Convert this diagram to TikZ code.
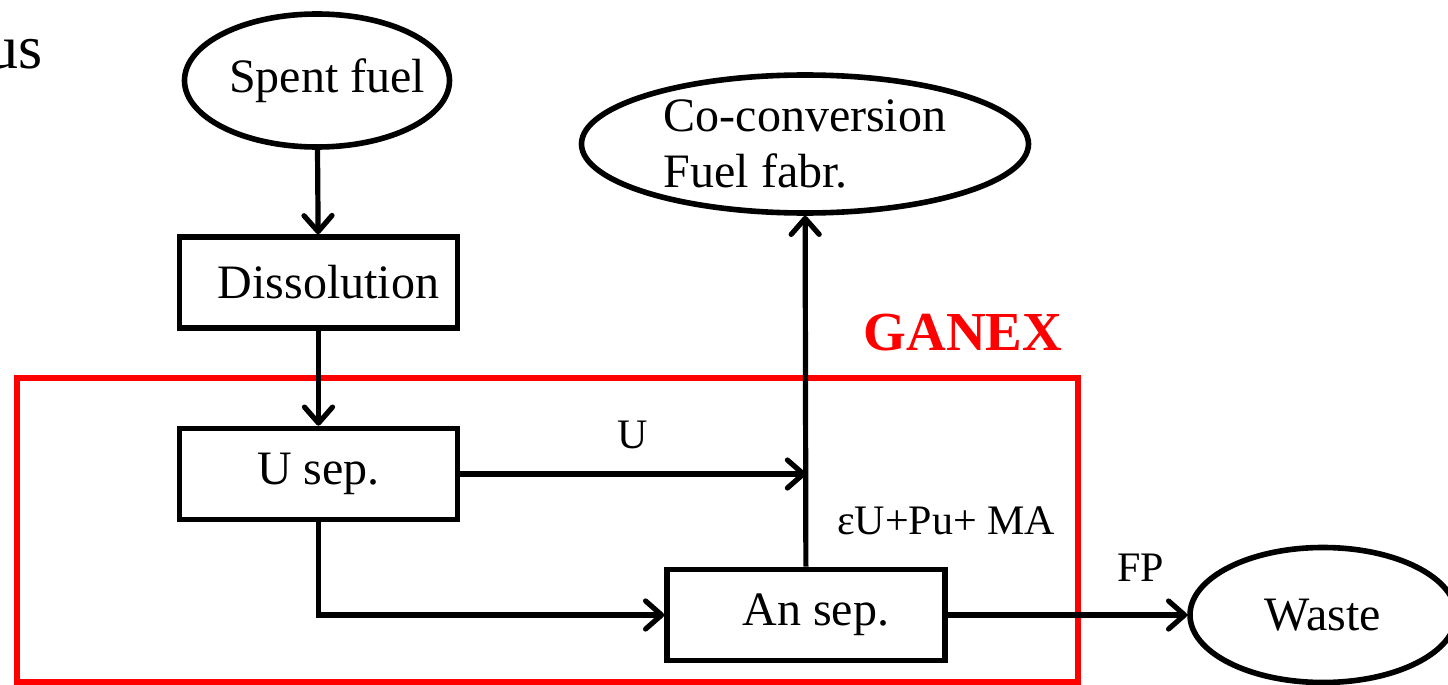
\documentclass[tikz,border=0pt]{standalone}
\usepackage{fontspec}
\setmainfont{Liberation Serif}
\usetikzlibrary{shapes.geometric, arrows.meta, positioning, calc}
\definecolor{ganexred}{RGB}{255, 0, 0}

\begin{document}
\begin{tikzpicture}[x=0.5pt, y=-0.5pt,
    stepbox/.style={draw=black, line width=2.8pt, rectangle, minimum width=139pt, minimum height=45.5pt, inner sep=0pt, font=\fontsize{24}{28}\selectfont},
    endpoint/.style={draw=black, line width=2.8pt, ellipse, inner sep=0pt, font=\fontsize{24}{28}\selectfont},
    flow/.style={line width=2.6pt, -{Straight Barb[length=8pt, width=14pt, round]}},
    lbl/.style={font=\fontsize{21}{24}\selectfont}]
    \useasboundingbox (0,0) rectangle (1448,685);

    % --- GANEX frame ---
    \draw[ganexred, line width=2.8pt] (17,378) rectangle (1078,682);
    \node[ganexred, font=\bfseries\fontsize{27.5}{32}\selectfont] (ganex) at (963,333) {GANEX};

    % cut-off slide text
    \node[anchor=east, inner sep=0pt, font=\fontsize{31}{36}\selectfont] (us) at (43,54) {us};

    % --- process steps ---
    \node[endpoint, inner xsep=-12pt, minimum width=132.5pt, minimum height=66.5pt] (spent) at (317,80.5) {\hspace*{10pt}Spent fuel};
    \node[stepbox] (dissol) at (318.5,282.5) {\hspace*{10pt}Dissolution};
    \node[stepbox] (usep) at (318.5,474) {U sep.};
    \node[stepbox] (ansep) at (806,615) {\hspace*{10pt}An sep.};
    \node[endpoint, minimum width=223.5pt, minimum height=69pt, align=left] (coconv) at (805,144) {Co-conversion\\Fuel fabr.};
    \node[endpoint, minimum width=133pt, minimum height=67.5pt] (waste) at (1323,615) {Waste};
    \coordinate (join) at (806,474);

    % --- flows ---
    \draw[flow] (spent) -- (dissol);
    \draw[flow] (dissol) -- (usep);
    \draw[flow] (usep) -- (join) node[lbl, midway, above=8pt] (ulbl) {U};
    \draw[flow] (usep.south) |- (ansep.west);
    \draw[flow] (ansep) -- (coconv);
    \draw[flow] (ansep) -- (waste);

    % stream labels
    \node[lbl] (mix) at (946,521) {εU+Pu+ MA};
    \node[lbl] (fp) at (1141,568) {FP};
\end{tikzpicture}
\end{document}
